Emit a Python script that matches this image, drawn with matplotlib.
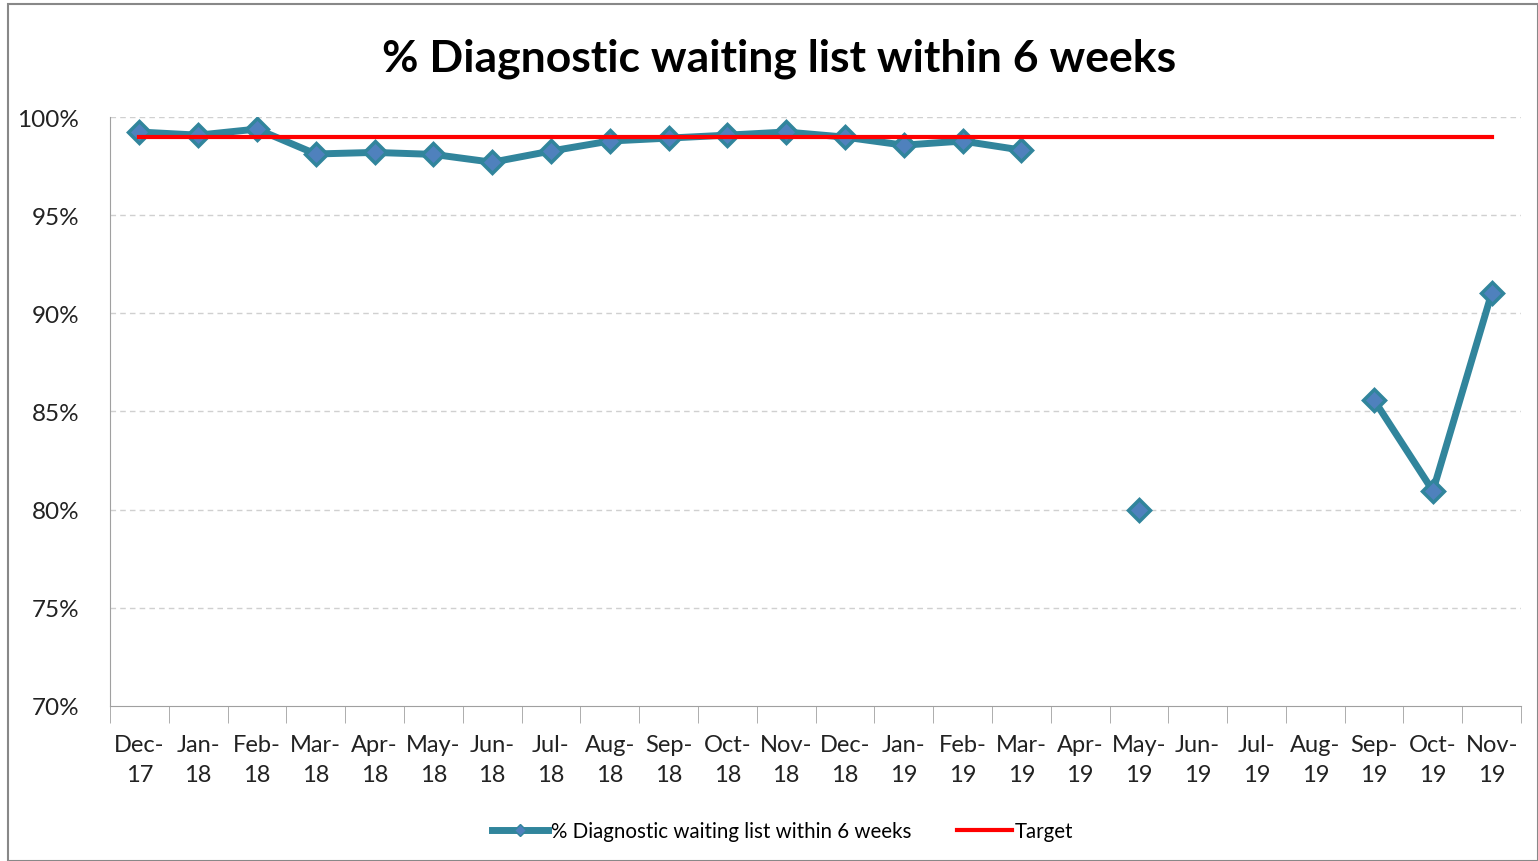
import numpy as np
import matplotlib.pyplot as plt
from matplotlib.patches import Rectangle

plt.rcParams['font.family'] = ['Lato', 'DejaVu Sans']

# months Dec-17 .. Nov-19
months = ["Dec-\n17", "Jan-\n18", "Feb-\n18", "Mar-\n18", "Apr-\n18", "May-\n18",
          "Jun-\n18", "Jul-\n18", "Aug-\n18", "Sep-\n18", "Oct-\n18", "Nov-\n18",
          "Dec-\n18", "Jan-\n19", "Feb-\n19", "Mar-\n19", "Apr-\n19", "May-\n19",
          "Jun-\n19", "Jul-\n19", "Aug-\n19", "Sep-\n19", "Oct-\n19", "Nov-\n19"]
within_6wk = [99.24, 99.08, 99.39, 98.12, 98.2, 98.1, 97.7, 98.27, 98.78, 98.93,
              99.08, 99.24, 98.98, 98.57, 98.78, 98.32, np.nan, 80.0, np.nan,
              np.nan, np.nan, 85.58, 80.95, 91.03]
target = [99.0] * len(months)

x = np.arange(len(months))

fig = plt.figure(figsize=(15.38, 8.62), dpi=100)
ax = fig.add_axes([0.0715, 0.18, 0.9175, 0.683])

ax.plot(x, within_6wk, color="#31859C", lw=5, marker="D", ms=11,
        markerfacecolor="#4F81BD", markeredgecolor="#31859C", markeredgewidth=2.5,
        label="% Diagnostic waiting list within 6 weeks", zorder=3)
ax.plot(x, target, color="#FF0000", lw=3, label="Target", zorder=4)

ax.set_xlim(-0.5, len(months) - 0.5)
ax.set_ylim(70, 100)
ax.set_yticks(range(70, 101, 5))
ax.set_yticklabels([f"{v}%" for v in range(70, 101, 5)], fontsize=17.5, color="#222222")
ax.set_xticks(x)
ax.set_xticklabels(months, fontsize=17, color="#222222", linespacing=1.55)
ax.set_xticks(np.arange(-0.5, len(months)), minor=True)
ax.tick_params(axis="x", which="major", length=0, pad=20)
ax.tick_params(axis="x", which="minor", length=12, color="#A0A0A0", direction="out")
ax.tick_params(axis="y", length=0, pad=22)

for v in range(75, 101, 5):
    ax.axhline(v, color="#D0D0D0", lw=1, ls=(0, (4, 3)), zorder=0)

for s in ["top", "right"]:
    ax.spines[s].set_visible(False)
ax.spines["left"].set_color("#A0A0A0")
ax.spines["bottom"].set_color("#A0A0A0")

fig.text(0.5065, 0.932, "% Diagnostic waiting list within 6 weeks", ha="center",
         va="center", fontsize=32, fontweight="bold")

leg = ax.legend(loc="upper center", bbox_to_anchor=(0.477, -0.165), ncol=2, frameon=False,
                fontsize=14.8, handlelength=2.7, columnspacing=2.2, handletextpad=0.15)
leg.legend_handles[0].set_markersize(6)
leg.legend_handles[0].set_markeredgewidth(1)

fig.patches.append(Rectangle((0.005, 0.0), 0.995, 0.994, transform=fig.transFigure,
                             fill=False, edgecolor="#888888", lw=1.5))

fig.savefig("out.png", dpi=100)
